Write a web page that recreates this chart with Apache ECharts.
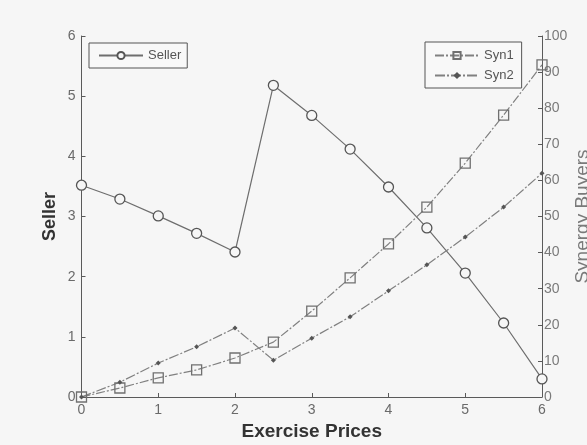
<!DOCTYPE html>
<html>
<head>
<meta charset="utf-8">
<script src="https://cdn.jsdelivr.net/npm/echarts@6/dist/echarts.min.js"></script>
<style>
  html, body { margin: 0; padding: 0; background: #f6f6f6; overflow: hidden; }
  #chart { width: 587px; height: 445px; }
</style>
</head>
<body>
<div id="chart"></div>
<script>
// Exercise prices on the x axis
const exercisePrices = [0, 0.5, 1, 1.5, 2, 2.5, 3, 3.5, 4, 4.5, 5, 5.5, 6];
// Seller value (left axis)
const sellerValues = [3.52, 3.29, 3.01, 2.72, 2.41, 5.18, 4.68, 4.12, 3.49, 2.81, 2.06, 1.23, 0.30];
// Synergy buyers (right axis)
const syn1Values = [0, 2.5, 5.3, 7.5, 10.8, 15.2, 23.8, 33.0, 42.4, 52.6, 64.8, 78.1, 92.0];
const syn2Values = [0, 4.1, 9.4, 13.9, 19.1, 10.2, 16.3, 22.2, 29.4, 36.6, 44.3, 52.6, 62.0];
const xTicks = [0, 1, 2, 3, 4, 5, 6];

const pairs = (ys) => exercisePrices.map((x, i) => [x, ys[i]]);

const axisGray = '#5a5a5a';
const labelGray = '#6a6a6a';
const font = 'Liberation Sans, Arial, sans-serif';

const gridLeft = 81.5, gridRight = 45, gridTop = 36, gridBottom = 48;
const plotCenterX = (gridLeft + (587 - gridRight)) / 2;
const plotCenterY = (gridTop + (445 - gridBottom)) / 2;

const chart = echarts.init(document.getElementById('chart'));
chart.setOption({
  backgroundColor: '#f6f6f6',
  animation: false,
  grid: { left: gridLeft, right: gridRight, top: gridTop, bottom: gridBottom },
  xAxis: {
    type: 'value', min: xTicks[0], max: xTicks[xTicks.length - 1], interval: 1,
    axisLine: { lineStyle: { color: axisGray, width: 1 } },
    axisTick: { inside: true, length: 4, lineStyle: { color: axisGray } },
    axisLabel: { color: labelGray, fontSize: 14, fontFamily: font, margin: 6 },
    splitLine: { show: false }
  },
  yAxis: [
    {
      type: 'value', min: 0, max: 6, interval: 1, position: 'left',
      axisLine: { show: true, lineStyle: { color: axisGray, width: 1 } },
      axisTick: { show: true, inside: true, length: 4, lineStyle: { color: axisGray } },
      axisLabel: { color: labelGray, fontSize: 14, fontFamily: font, margin: 6 },
      splitLine: { show: false }
    },
    {
      type: 'value', min: 0, max: 100, interval: 10, position: 'right',
      axisLine: { show: true, lineStyle: { color: axisGray, width: 1 } },
      axisTick: { show: true, inside: true, length: 4, lineStyle: { color: axisGray } },
      axisLabel: { color: '#7a7a7a', fontSize: 14, fontFamily: font, margin: 2 },
      splitLine: { show: false }
    }
  ],
  legend: [
    {
      data: ['Seller'], left: 89, top: 43, orient: 'vertical',
      backgroundColor: '#f8f8f8', borderColor: '#555', borderWidth: 1,
      padding: [5, 6, 5, 9], itemWidth: 44, itemHeight: 9, itemGap: 4,
      textStyle: { color: '#555', fontSize: 13, fontFamily: font, lineHeight: 15 }
    },
    {
      data: ['Syn1', 'Syn2'], left: 425, top: 42, orient: 'vertical',
      backgroundColor: '#f8f8f8', borderColor: '#555', borderWidth: 1,
      padding: [6, 8, 5, 9], itemWidth: 44, itemHeight: 9, itemGap: 5,
      textStyle: { color: '#555', fontSize: 13, fontFamily: font, lineHeight: 15 }
    }
  ],
  graphic: [
    {
      type: 'text', x: 41, y: plotCenterY, rotation: Math.PI / 2,
      style: { text: 'Seller', fill: '#333', font: 'bold 18px ' + font,
               align: 'center', verticalAlign: 'top' }
    },
    {
      type: 'text', x: 573, y: plotCenterY, rotation: Math.PI / 2,
      style: { text: 'Synergy Buyers', fill: '#7a7a7a', font: '19px ' + font,
               align: 'center', verticalAlign: 'top' }
    },
    {
      type: 'text', x: plotCenterX, y: 422,
      style: { text: 'Exercise Prices', fill: '#333', font: 'bold 19px ' + font,
               align: 'center', verticalAlign: 'top' }
    }
  ],
  series: [
    {
      name: 'Seller', type: 'line', yAxisIndex: 0, data: pairs(sellerValues),
      symbol: 'circle', symbolSize: 10,
      lineStyle: { color: '#6e6e6e', width: 1.2 },
      itemStyle: { color: '#f6f6f6', borderColor: '#555', borderWidth: 1.3 }
    },
    {
      name: 'Syn1', type: 'line', yAxisIndex: 1, data: pairs(syn1Values),
      symbol: 'rect', symbolSize: 10,
      lineStyle: { color: '#808080', width: 1.2, type: [9, 2, 2, 2] },
      itemStyle: { color: 'rgba(0,0,0,0)', borderColor: '#707070', borderWidth: 1.3 }
    },
    {
      name: 'Syn2', type: 'line', yAxisIndex: 1, data: pairs(syn2Values),
      symbol: 'diamond', symbolSize: 5,
      lineStyle: { color: '#808080', width: 1.2, type: [10, 2, 2, 2] },
      itemStyle: { color: '#555', borderWidth: 0 }
    }
  ]
});
</script>
</body>
</html>
